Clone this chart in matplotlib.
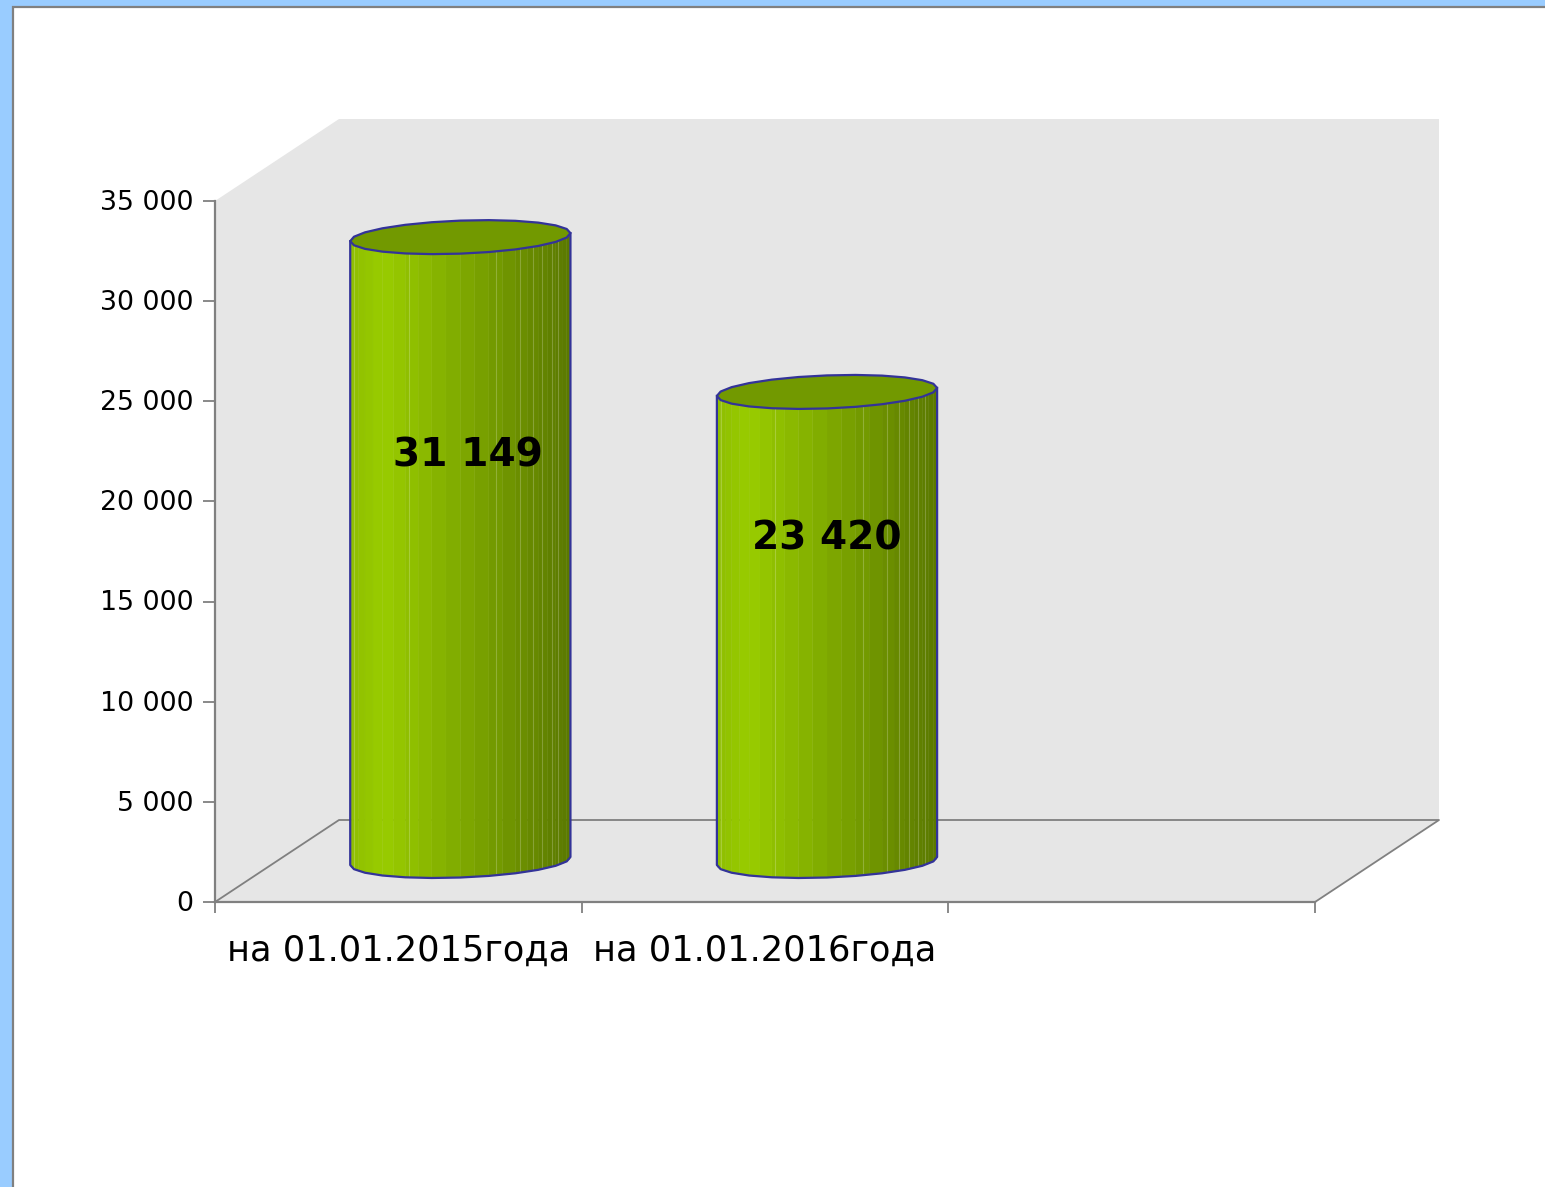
import numpy as np
import matplotlib
matplotlib.use("Agg")
import matplotlib.pyplot as plt
from matplotlib.patches import Polygon, Rectangle
from matplotlib.transforms import ScaledTranslation

categories = ["на 01.01.2015года", "на 01.01.2016года", ""]
values = [31149, 23420]
value_labels = ["31 149", "23 420"]
label_levels = [20270, 16080]
yticks = [0, 5000, 10000, 15000, 20000, 25000, 30000, 35000]
ytick_labels = ["0", "5 000", "10 000", "15 000", "20 000", "25 000", "30 000", "35 000"]

W, H = 1545, 1187
plt.rcParams["font.family"] = ["DejaVu Sans"]
fig = plt.figure(figsize=(W / 100, H / 100), dpi=100, facecolor="#99CCFF")
fig.add_artist(Rectangle((13 / W, -0.01), 1.01, 1.01 - 7 / H, transform=fig.transFigure,
                         facecolor="white", edgecolor="#808080", linewidth=1.6, zorder=-5))

ax = fig.add_axes([215 / W, 1 - 902 / H, 1100 / W, 701 / H])
ax.set_xlim(0, 3)
ax.set_ylim(0, 35000)
ax.patch.set_alpha(0)
px_x = 3 / 1100
px_y = 35000 / 701
DX, DY = 124 * px_x, 82 * px_y

GRAY = "#808080"
ax.add_patch(Polygon([(0, 0), (0, 35000), (DX, 35000 + DY), (3 + DX, 35000 + DY), (3 + DX, DY), (3, 0)],
                     closed=True, facecolor="#E6E6E6", edgecolor="none", clip_on=False, zorder=0))
ax.plot([0, DX, 3 + DX, 3], [0, DY, DY, 0], color=GRAY, lw=1.3, clip_on=False, zorder=1)

for s in ("top", "right"):
    ax.spines[s].set_visible(False)
for s in ("left", "bottom"):
    ax.spines[s].set_color(GRAY)
    ax.spines[s].set_linewidth(1.6)
ax.set_yticks(yticks, ytick_labels, fontsize=19.3, color="black")
ax.set_xticks([0, 1, 2, 3])
ax.set_xticklabels([])
ax.tick_params(axis="both", color=GRAY, width=1.3, length=8.5, pad=7)
ax.tick_params(axis="x", length=8)
nudge = ScaledTranslation(0, 1.2 / 100, fig.dpi_scale_trans)
for lab in ax.get_yticklabels():
    lab.set_transform(lab.get_transform() + nudge)
for i, c in enumerate(categories):
    ax.text(i + 0.5, -2450, c, ha="center", va="center", fontsize=25.3, color="black", clip_on=False)

A, B, C = 107 * px_x, 26 * px_x, 17 * px_y
LIGHT = np.array([0x99, 0xCC, 0x00]) / 255
DARK = np.array([0x5A, 0x78, 0x00]) / 255
EDGE = "#333399"


def ring(cx, cy, t):
    return cx + A * np.cos(t) + B * np.sin(t), cy + C * np.sin(t)


def shade(f):
    if f < 0.15:
        return LIGHT * (0.93 + 0.07 * f / 0.15)
    return LIGHT + (DARK - LIGHT) * (f - 0.15) / 0.85


step = 7.5
edge_angles = [27, 34, 42, 49, 57, 71, 118, 165]
for i, v in enumerate(values):
    cx = i + 0.5 + DX / 2
    base, top = DY / 2, v + DY / 2
    half = np.hypot(A, B)
    t0 = np.arctan2(B, A)
    angles = np.radians(np.arange(0, 180 + step, step))
    # lower half of the cylinder, from its right extreme to its left extreme
    low = t0 - angles
    for t1, t2 in zip(low[:-1], low[1:]):
        x1, yb1 = ring(cx, base, t1)
        x2, yb2 = ring(cx, base, t2)
        _, yt1 = ring(cx, top, t1)
        _, yt2 = ring(cx, top, t2)
        f = ((x1 + x2) / 2 - (cx - half)) / (2 * half)
        ax.add_patch(Polygon([(x1, yt1), (x2, yt2), (x2, yb2), (x1, yb1)], closed=True,
                             facecolor=shade(f), edgecolor=shade(f), lw=0.3, clip_on=False, zorder=3))
    for ang in edge_angles:
        t = t0 - np.radians(ang)
        x, yb = ring(cx, base, t)
        _, yt = ring(cx, top, t)
        ax.plot([x, x], [yb, yt], color="white", alpha=0.22, lw=0.8, clip_on=False, zorder=4)
    low_outline = low[::2]
    xs, ys = ring(cx, base, low_outline)
    xt, yt = ring(cx, top, low_outline)
    ax.plot(np.r_[xt[0], xs, xt[-1]], np.r_[yt[0], ys, yt[-1]], color=EDGE, lw=1.6,
            clip_on=False, zorder=5, solid_joinstyle="round")
    tt = np.radians(np.arange(0, 360, 15)) + t0
    xe, ye = ring(cx, top, tt)
    ax.add_patch(Polygon(np.c_[xe, ye], closed=True, facecolor="#729900", edgecolor=EDGE, lw=1.6,
                         clip_on=False, zorder=6, joinstyle="round"))
    ax.text(cx + 8 * px_x * (1 - i), label_levels[i] + DY / 2, value_labels[i],
            ha="center", va="center", fontsize=28.2, fontweight="bold", color="black", zorder=7)

fig.savefig("out.png", dpi=100, facecolor=fig.get_facecolor())
